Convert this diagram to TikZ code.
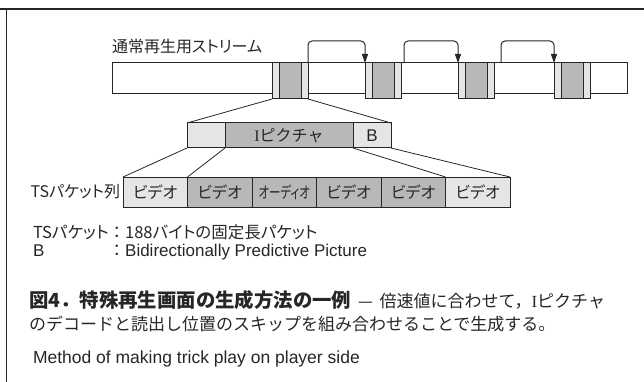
\documentclass[tikz,border=0pt]{standalone}
\usepackage{fontspec}
\setmainfont{Liberation Sans}
\newfontfamily\jp{Noto Sans CJK JP}
\newfontfamily\jpp[RawFeature=+palt]{Noto Sans CJK JP}
\newfontfamily\serifI{Liberation Serif}
\usetikzlibrary{arrows.meta}
\definecolor{dkfill}{gray}{0.72}
\definecolor{ltfill}{gray}{0.90}
\definecolor{ink}{gray}{0.15}
\begin{document}
\begin{tikzpicture}[x=1pt,y=-1pt,
  cell/.style={draw=ink, line width=1pt, inner sep=0pt, outer sep=0pt, anchor=north west},
  lab/.style={inner sep=0pt, outer sep=0pt, text=ink, font=\jpp\fontsize{16}{18}\selectfont},
  notetext/.style={inner sep=0pt, outer sep=0pt, text=ink, font=\jpp\fontsize{16.5}{18}\selectfont},
  lat/.style={inner sep=0pt, outer sep=0pt, text=ink, font=\fontsize{17}{19}\selectfont},
  captext/.style={inner sep=0pt, outer sep=0pt, text=ink, font=\jp\fontsize{17}{19}\selectfont},
  arr/.style={draw=ink, line width=1pt, rounded corners=4pt, -{Triangle[length=9pt,width=6pt]}},
  conn/.style={draw=ink, line width=0.8pt}]
\useasboundingbox (0,0) rectangle (644,382);
% frame
\draw[ink, line width=1.3pt] (0,9) -- (644,9);
\draw[ink, line width=1pt] (6,9) -- (6,382);
% stream
\node[lab, anchor=base west] (slabel) at (112,53) {通常再生用ストリーム};
\node[cell, fill=white, minimum width=515pt, minimum height=31pt] (bar) at (112,63) {};
\foreach \i/\L in {1/272, 2/365, 3/458, 4/554} {
  \node[cell, fill=ltfill, minimum width=36pt, minimum height=36pt] (b\i) at (\L,63) {};
  \node[cell, fill=dkfill, minimum width=22pt, minimum height=36pt] (bd\i) at ({\L+7},63) {};
}
\draw[arr] (b1.north east) -- ++(0,-22) -| (b2.north west);
\draw[arr] ([xshift=3pt]b2.north east) -- ++(0,-22) -| (b3.north west);
\draw[arr] ([xshift=7pt]b3.north east) -- ++(0,-22) -| (b4.north west);
% picture row
\node[cell, fill=ltfill, minimum width=38pt, minimum height=25pt] (m1) at (187,123) {};
\node[cell, lab, fill=dkfill, minimum width=128pt, minimum height=25pt] (m2) at (225,123) {{\serifI I}{\jp ピクチャ}};
\node[cell, lat, fill=ltfill, minimum width=38pt, minimum height=25pt] (m3) at (353,123) {B};
\draw[conn] (b1.south west) -- (m1.north west);
\draw[conn] (b1.south east) -- (m3.north east);
% TS row
\node[lab, anchor=east] (tslabel) at (120,192) {TSパケット列};
\foreach \i/\f/\t in {1/ltfill/ビデオ, 2/dkfill/ビデオ, 3/dkfill/{\scalebox{0.72}[1]{オーディオ}}, 4/dkfill/ビデオ, 5/dkfill/ビデオ, 6/ltfill/ビデオ} {
  \node[cell, lab, fill=\f, minimum width=64.5pt, minimum height=30pt] (c\i) at ({123+(\i-1)*64.5},177) {\t};
}
\draw[conn] (m1.south west) -- (c1.north west);
\draw[conn] (m2.south west) -- (c2.north west);
\draw[conn] (m2.south east) -- (c6.north west);
\draw[conn] (m3.south east) -- (c6.north east);
% notes
\node[notetext, anchor=base west] (note1) at (33,238) {TSパケット{\jp ：}188バイトの固定長パケット};
\node[notetext, anchor=base west] (note2) at (33,256) {\rlap{\fontspec{Liberation Sans}\fontsize{17}{19}\selectfont B}\hphantom{TSパケット}{\jp ：}{\fontspec{Liberation Sans}\fontsize{17}{19}\selectfont Bidirectionally Predictive Picture}};
% caption
\node[captext, anchor=base west] (cap1) at (29,307) {{\bfseries\fontsize{19.4}{21}\selectfont 図4．特殊再生画面の生成方法の一例}\ \,—\ \,倍速値に合わせて，{\serifI I}ピクチャ};
\node[captext, anchor=base west] (cap2) at (29,330) {のデコードと読出し位置のスキップを組み合わせることで生成する。};
\node[lat, anchor=base west, font=\fontsize{17.5}{19}\selectfont] (meth) at (33,363) {Method of making trick play on player side};
\end{tikzpicture}
\end{document}
